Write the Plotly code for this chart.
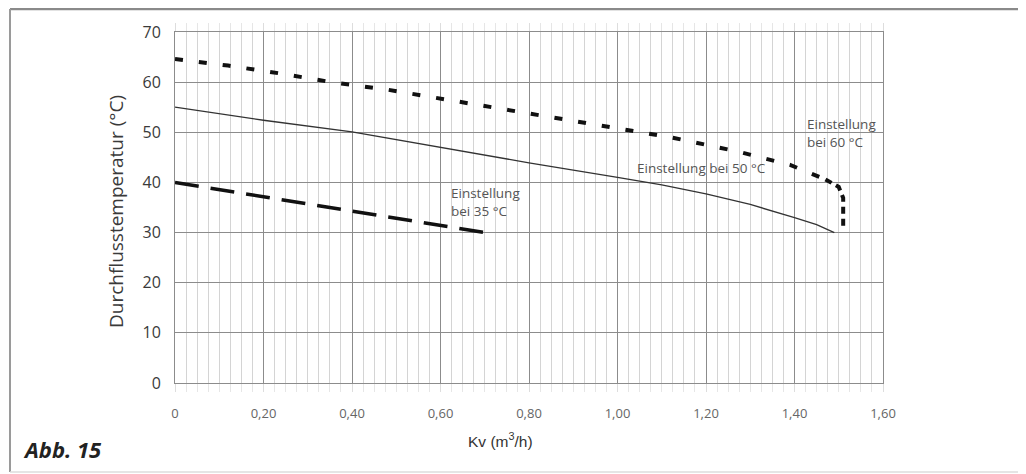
import plotly.graph_objects as go

# Data
kv_35 = [0.0, 0.20, 0.40, 0.60, 0.70]
t_35 = [40.0, 37.1, 34.3, 31.4, 30.0]

kv_50 = [0.0, 0.20, 0.40, 0.60, 0.80, 1.00, 1.10, 1.20, 1.30, 1.40, 1.45, 1.49]
t_50 = [55.0, 52.4, 50.1, 47.0, 43.9, 41.0, 39.5, 37.7, 35.6, 33.0, 31.6, 30.0]

kv_60 = [0.0, 0.12, 0.24, 0.36, 0.48, 0.70, 0.96, 1.12, 1.27, 1.39, 1.47, 1.50, 1.51, 1.51]
t_60 = [64.6, 63.3, 61.7, 59.9, 58.5, 55.3, 51.5, 49.0, 46.2, 43.5, 40.6, 39.1, 36.9, 31.0]

x_ticks = [0, 0.2, 0.4, 0.6, 0.8, 1.0, 1.2, 1.4, 1.6]
x_labels = ["0", "0,20", "0,40", "0,60", "0,80", "1,00", "1,20", "1,40", "1,60"]
y_ticks = [0, 10, 20, 30, 40, 50, 60, 70]

OFF = 8  # default page body margin
W, H = 1026 - OFF, 474 - OFF
L, T = 175 - OFF, 32 - OFF
R = W - (883 - OFF)
B = H - (383 - OFF)
pw, ph = W - L - R, H - T - B


def px(x):
    return (x - OFF - L) / pw


def py(y):
    return (H - B - (y - OFF)) / ph


fig = go.Figure()
fig.add_trace(go.Scatter(x=kv_35, y=t_35, mode="lines",
                         line=dict(color="#111", width=3.5, dash="24px,12px"),
                         showlegend=False, hoverinfo="skip"))
fig.add_trace(go.Scatter(x=kv_50, y=t_50, mode="lines",
                         line=dict(color="#333", width=1.3),
                         showlegend=False, hoverinfo="skip"))
split = len(kv_60) - 4
fig.add_trace(go.Scatter(x=kv_60[:split + 1], y=t_60[:split + 1], mode="lines",
                         line=dict(color="#111", width=4, dash="8px,16px"),
                         showlegend=False, hoverinfo="skip"))
fig.add_trace(go.Scatter(x=kv_60[split:], y=t_60[split:], mode="lines",
                         line=dict(color="#111", width=4, dash="7px,5px"),
                         showlegend=False, hoverinfo="skip"))

ann_font = dict(family="Open Sans", size=13.5, color="#555")
fig.add_annotation(x=0.62, y=36.0, xref="x", yref="y", text="Einstellung<br>bei 35 °C",
                   showarrow=False, xanchor="left", yanchor="middle", align="left", font=ann_font)
fig.add_annotation(x=1.04, y=42.9, xref="x", yref="y", text="Einstellung bei 50 °C",
                   showarrow=False, xanchor="left", yanchor="middle", align="left", font=ann_font)
fig.add_annotation(x=1.424, y=49.9, xref="x", yref="y", text="Einstellung<br>bei 60 °C",
                   showarrow=False, xanchor="left", yanchor="middle", align="left", font=ann_font)

# Axis titles and figure label
fig.add_annotation(x=px(116), y=py(212), xref="paper", yref="paper",
                   text="Durchflusstemperatur (°C)", textangle=-90, showarrow=False,
                   xanchor="center", yanchor="middle",
                   font=dict(family="Open Sans", size=19, color="#3a3a3a"))
fig.add_annotation(x=px(500), y=py(440), xref="paper", yref="paper",
                   text="Kv (m<sup>3</sup>/h)", showarrow=False,
                   xanchor="center", yanchor="middle",
                   font=dict(family="Liberation Sans", size=15.5, color="#333"))
fig.add_annotation(x=px(21), y=py(449), xref="paper", yref="paper",
                   text="<b><i>Abb. 15</i></b>", showarrow=False,
                   xanchor="left", yanchor="middle",
                   font=dict(family="Open Sans", size=22, color="#222"))

# Outer frame
fig.add_shape(type="line", xref="paper", yref="paper", x0=px(10), x1=px(1021), y0=py(9), y1=py(9),
              line=dict(color="#8a8a8a", width=2.5))
fig.add_shape(type="line", xref="paper", yref="paper", x0=px(10), x1=px(10), y0=py(9), y1=py(472),
              line=dict(color="#9a9a9a", width=2))
fig.add_shape(type="line", xref="paper", yref="paper", x0=px(1021), x1=px(1021), y0=py(9), y1=py(472),
              line=dict(color="#dcdcdc", width=1.5))
fig.add_shape(type="line", xref="paper", yref="paper", x0=px(10), x1=px(1021), y0=py(472), y1=py(472),
              line=dict(color="#dcdcdc", width=1.5))

fig.update_layout(
    width=W, height=H,
    margin=dict(l=L, r=R, t=T, b=B),
    paper_bgcolor="white", plot_bgcolor="white",
    showlegend=False,
)
fig.update_xaxes(
    range=[0, 1.6], tickvals=x_ticks, ticktext=x_labels,
    showgrid=True, gridcolor="#8c8c8c", gridwidth=1,
    showline=True, linecolor="#8c8c8c", linewidth=1, mirror="allticks",
    ticks="outside", ticklen=8, tickcolor="#dddddd",
    ticklabelstandoff=10,
    tickfont=dict(family="Open Sans", size=13, color="#666"),
    minor=dict(dtick=0.025, showgrid=True, gridcolor="#d4d4d4", gridwidth=1,
               ticks="outside", ticklen=8, tickcolor="#e6e6e6"),
    zeroline=False,
)
fig.update_yaxes(
    range=[0, 70], tickvals=y_ticks,
    showgrid=True, gridcolor="#8c8c8c", gridwidth=1,
    showline=True, linecolor="#8c8c8c", linewidth=1, mirror=True,
    ticks="", ticklabelstandoff=10,
    tickfont=dict(family="Open Sans", size=16, color="#3a3a3a"),
    zeroline=False,
)

fig.write_html("out.html")
